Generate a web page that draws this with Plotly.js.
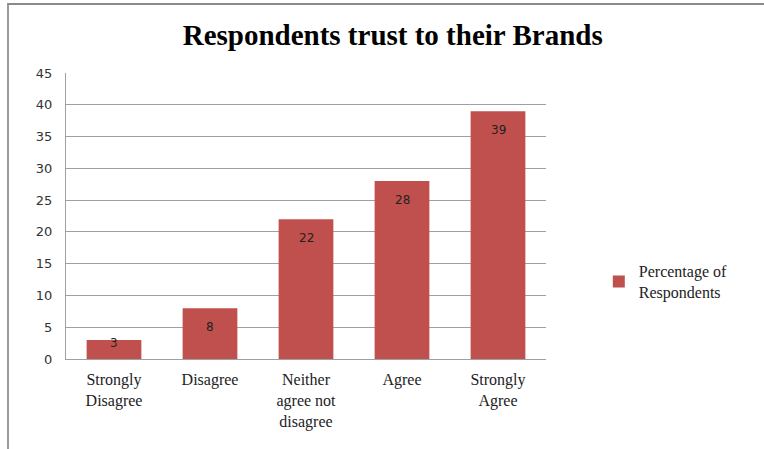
<!DOCTYPE html>
<html>
<head>
<meta charset="utf-8">
<script src="https://cdn.plot.ly/plotly-3.0.1.min.js"></script>
<style>
html,body{margin:0;padding:0;background:#fff;}
#wrap{position:relative;width:764px;height:449px;overflow:hidden;}
#chart{width:764px;height:449px;}
#frame{position:absolute;left:7px;top:3px;width:760px;height:450px;border-top:2px solid #8a8a8a;border-left:2px solid #9a9a9a;pointer-events:none;}
</style>
</head>
<body>
<div id="wrap"><div id="chart"></div><div id="frame"></div></div>
<script>
var categories = ["Strongly<br>Disagree", "Disagree", "Neither<br>agree not<br>disagree", "Agree", "Strongly<br>Agree"];
var values = [3, 8, 22, 28, 39];
var seriesName = "Percentage of<br>Respondents";
var yTicks = [0, 5, 10, 15, 20, 25, 30, 35, 40, 45];

var trace = {
  type: "bar",
  x: categories,
  y: values,
  name: seriesName,
  width: 0.57,
  marker: {color: "#C0504D"},
  hoverinfo: "none",
  showlegend: true
};

var annotations = values.map(function(v, i){
  return {
    x: categories[i], y: v, xref: "x", yref: "y",
    text: String(v), showarrow: false,
    yanchor: "middle",
    yshift: v >= 5 ? -19 : -3,
    font: {family: "DejaVu Sans, Verdana, sans-serif", size: 12, color: "#222"}
  };
});

var layout = {
  width: 764, height: 449,
  margin: {l: 66, r: 218, t: 73, b: 90},
  paper_bgcolor: "#fff",
  plot_bgcolor: "#fff",
  title: {
    text: "<b>Respondents trust to their Brands</b>",
    font: {family: "Liberation Serif, Times New Roman, serif", size: 29, color: "#000"},
    x: 0.514, xanchor: "center", xref: "container",
    y: 0.922, yanchor: "middle", yref: "container"
  },
  xaxis: {
    type: "category",
    showgrid: false,
    showline: true, linecolor: "#a0a0a0", linewidth: 1,
    ticks: "",
    ticklabelstandoff: 6,
    tickfont: {family: "Liberation Serif, Times New Roman, serif", size: 16, color: "#222"},
    fixedrange: true
  },
  yaxis: {
    range: [0, 45],
    tickvals: yTicks,
    ticktext: yTicks.map(String),
    showgrid: true, gridcolor: "#a0a0a0", gridwidth: 1,
    showline: true, linecolor: "#a0a0a0", linewidth: 1,
    zeroline: false,
    ticks: "",
    ticklabelstandoff: 10,
    tickfont: {family: "DejaVu Sans, Verdana, sans-serif", size: 13, color: "#333"},
    fixedrange: true
  },
  showlegend: true,
  legend: {
    x: 1.11, xanchor: "left",
    y: 0.27, yanchor: "middle",
    font: {family: "Liberation Serif, Times New Roman, serif", size: 16, color: "#222"},
    bgcolor: "rgba(0,0,0,0)",
    itemwidth: 30
  },
  annotations: annotations
};

Plotly.newPlot("chart", [trace], layout, {displayModeBar: false, staticPlot: true});
</script>
</body>
</html>
